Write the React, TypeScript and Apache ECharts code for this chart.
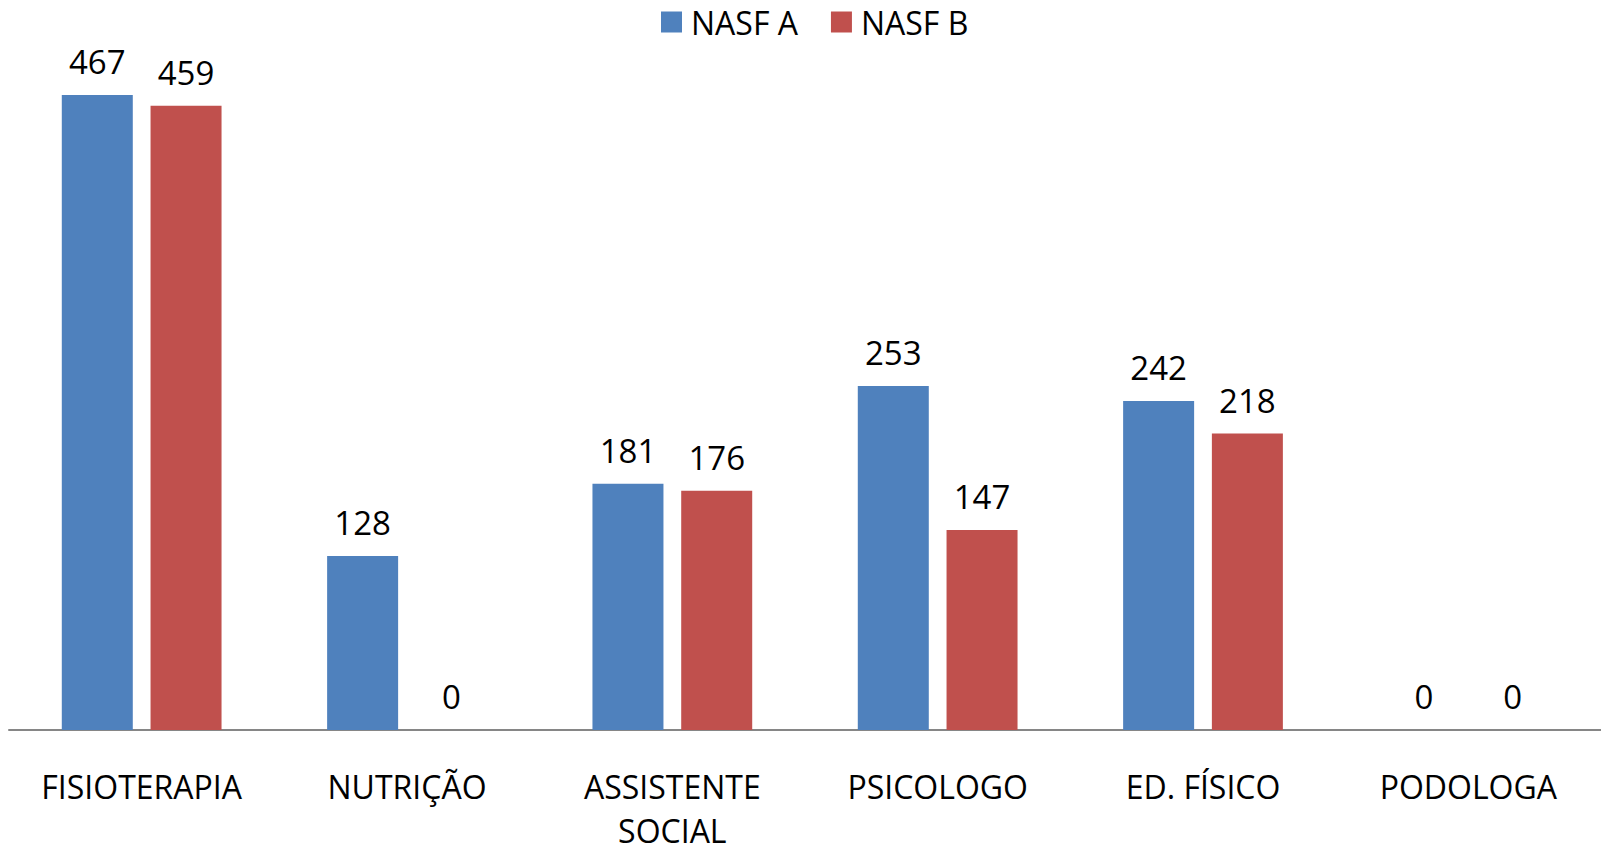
import React, { useEffect, useRef } from "react";
import * as echarts from "echarts";

const categories = ["FISIOTERAPIA", "NUTRIÇÃO", "ASSISTENTE\nSOCIAL", "PSICOLOGO", "ED. FÍSICO", "PODOLOGA"];
const seriesNames = ["NASF A", "NASF B"];
const nasfA = [467, 128, 181, 253, 242, 0];
const nasfB = [459, 0, 176, 147, 218, 0];
const colors = ["#4F81BD", "#C0504D"];
const FONT = "Open Sans";

export default function App() {
  const ref = useRef<HTMLDivElement>(null);
  useEffect(() => {
    if (!ref.current) return;
    const chart = echarts.init(ref.current, null, { renderer: "svg" });
    const labelStyle = {
      show: true,
      position: "top" as const,
      distance: 17,
      color: "#000",
      fontFamily: FONT,
      fontSize: 33,
    };
    chart.setOption({
      animation: false,
      backgroundColor: "#fff",
      legend: {
        data: seriesNames,
        top: 6,
        left: 661,
        padding: 0,
        icon: "rect",
        itemWidth: 21,
        itemHeight: 21,
        itemGap: 33,
        textStyle: { fontFamily: FONT, fontSize: 32, color: "#000", padding: [0, 0, 0, 4] },
      },
      grid: { left: 9, right: 0, top: 50, height: 680, outerBoundsMode: "none", containLabel: false },
      xAxis: {
        type: "category",
        data: categories,
        axisLine: { lineStyle: { color: "#868686", width: 2 } },
        axisTick: { show: false },
        axisLabel: {
          interval: 0,
          margin: 34,
          color: "#000",
          fontFamily: FONT,
          fontSize: 32,
          lineHeight: 44,
          verticalAlign: "top",
        },
      },
      yAxis: {
        type: "value",
        min: 0,
        max: 500,
        show: false,
        splitLine: { show: false },
      },
      series: [
        {
          name: seriesNames[0],
          type: "bar",
          data: nasfA,
          barWidth: 71,
          barGap: "25%",
          itemStyle: { color: colors[0] },
          label: labelStyle,
        },
        {
          name: seriesNames[1],
          type: "bar",
          data: nasfB,
          barWidth: 71,
          itemStyle: { color: colors[1] },
          label: labelStyle,
        },
      ],
    });
    return () => chart.dispose();
  }, []);
  return (
    <div
      ref={ref}
      style={{ position: "fixed", left: 0, top: 0, width: 1601, height: 852 }}
    />
  );
}
